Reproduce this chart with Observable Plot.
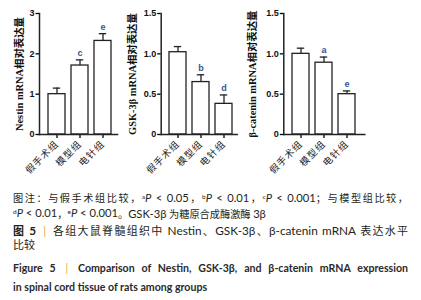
<!DOCTYPE html>
<html>
<head>
<meta charset="utf-8">
<script src="https://cdn.jsdelivr.net/npm/d3@7"></script>
<script src="https://cdn.jsdelivr.net/npm/@observablehq/plot@0.6"></script>
<style>
  html, body { margin: 0; padding: 0; background: #fff; }
  #wrap { position: relative; width: 421px; height: 300px; overflow: hidden; }
  #wrap svg { position: absolute; left: 0; top: 0; }
  g[aria-label="y-axis label"] text { font-family: "Liberation Serif", "Noto Sans CJK SC", serif; font-weight: bold; font-size: 10.4px; fill: #111; }
  g[aria-label="y-axis tick label"] text { font-family: "Liberation Sans", Arial, sans-serif; font-weight: bold; font-size: 9px; fill: #111; }
  g[aria-label="x-axis tick label"] text { font-family: "Noto Sans CJK SC", sans-serif; font-size: 9.5px; letter-spacing: 1px; fill: #222; }
  .blk { position: absolute; left: 13px; width: 395px; color: #231f20; white-space: nowrap;
         font-family: "Lato", "Noto Sans CJK SC", sans-serif; }
  .just { text-align: justify; text-align-last: justify; white-space: normal; }
  .note { top: 189px; font-size: 10.2px; line-height: 14.3px; }
  .note sup { font-size: 6.5px; vertical-align: 3.5px; }
  .l { font-size: 11.2px; }
  .t1 { top: 224px; font-size: 11px; line-height: 13.5px; }
  .t1 b { font-weight: bold; }
  .t1 .l { font-size: 11.8px; }
  .bar { color: #eda33a; font-weight: normal; margin: 0 3px; }
  .t2 { top: 259px; font-size: 10.6px; line-height: 19px; font-weight: bold; color: #2a2a2a; }
</style>
</head>
<body>
<div id="wrap">
  <div id="charts"></div>
  <div class="blk note">
    <div class="just">图注：与假手术组比较，<span class="l"><sup>a</sup><i>P</i> &lt; 0.05</span>，<span class="l"><sup>b</sup><i>P</i> &lt; 0.01</span>，<span class="l"><sup>c</sup><i>P</i> &lt; 0.001</span>；与模型组比较，</div>
    <div><span class="l"><sup>d</sup><i>P</i> &lt; 0.01</span>，<span class="l"><sup>e</sup><i>P</i> &lt; 0.001</span>。<span class="l">GSK-3β</span> 为糖原合成酶激酶 <span class="l">3β</span></div>
  </div>
  <div class="blk t1">
    <div class="just"><b>图 <span class="l">5</span></b> <span class="bar">|</span> 各组大鼠脊髓组织中 <span class="l">Nestin</span>、<span class="l">GSK-3β</span>、<span class="l">β-catenin mRNA</span> 表达水平</div>
    <div>比较</div>
  </div>
  <div class="blk t2">
    <div class="just">Figure 5 <span class="bar">|</span> Comparison of Nestin, GSK-3β, and β-catenin mRNA expression</div>
    <div>in spinal cord tissue of rats among groups</div>
  </div>
</div>
<script>
const groups = ["假手术组", "模型组", "电针组"];

const nestin = [1.00, 1.71, 2.32];
const nestinErr = [0.15, 0.14, 0.18];
const nestinSig = ["", "c", "e"];

const gsk = [1.02, 0.65, 0.38];
const gskErr = [0.07, 0.09, 0.11];
const gskSig = ["", "b", "d"];

const catenin = [1.00, 0.89, 0.50];
const cateninErr = [0.07, 0.07, 0.04];
const cateninSig = ["", "a", "e"];

const yTicksNestin = [0, 1, 2, 3];
const yTicksRatio = [0, 0.5, 1.0, 1.5];

const W = 421, H = 175;
const fmtInt = d => String(d);
const fmtDec = d => d === 0 ? "0" : d.toFixed(1);

function panel({values, errs, sig, ticks, fmt, axisX, axisEnd, xRange, label, labelOffset}) {
  const data = groups.map((g, i) => ({g, v: values[i], e: errs[i], s: sig[i], top: values[i] + errs[i]}));
  return Plot.plot({
    width: W, height: H,
    marginLeft: axisX, marginRight: W - axisEnd, marginTop: 13, marginBottom: 41,
    style: {background: "transparent", overflow: "visible"},
    x: {domain: groups, range: xRange, padding: 0.26, label: null},
    y: {domain: [ticks[0], ticks[ticks.length - 1]], label: null},
    marks: [
      Plot.barY(data, {x: "g", y: "v", fill: "white", stroke: "#222", strokeWidth: 1.3}),
      Plot.ruleX(data, {x: "g", y1: "v", y2: "top", stroke: "#222", strokeWidth: 1.3}),
      Plot.tickY(data, {x: "g", y: "top", stroke: "#222", strokeWidth: 1.3, insetLeft: 4.8, insetRight: 4.8}),
      Plot.text(data, {x: "g", y: "top", text: "s", dy: -7, fill: "#2f5597", fontWeight: "bold", fontSize: 9, fontFamily: "Liberation Sans, Arial, sans-serif"}),
      Plot.axisY({ticks, tickFormat: fmt, tickSize: 3.5, tickPadding: 1.5, strokeWidth: 1.3,
                  label, labelAnchor: "center", labelArrow: "none", labelOffset}),
      Plot.axisX({tickSize: 4, tickPadding: 4, tickRotate: -45, strokeWidth: 1.3, label: null}),
      Plot.frame({anchor: "left", strokeWidth: 1.5, stroke: "#222"}),
      Plot.frame({anchor: "bottom", strokeWidth: 1.5, stroke: "#222"})
    ]
  });
}

const host = document.getElementById("charts");
host.appendChild(panel({values: nestin, errs: nestinErr, sig: nestinSig, ticks: yTicksNestin, fmt: fmtInt,
  axisX: 39, axisEnd: 117, xRange: [41.9, 118.1], label: "Nestin mRNA相对表达量", labelOffset: 24}));
host.appendChild(panel({values: gsk, errs: gskErr, sig: gskSig, ticks: yTicksRatio, fmt: fmtDec,
  axisX: 160.7, axisEnd: 236.7, xRange: [162.1, 239.5], label: "GSK-3β mRNA相对表达量", labelOffset: 33}));
host.appendChild(panel({values: catenin, errs: cateninErr, sig: cateninSig, ticks: yTicksRatio, fmt: fmtDec,
  axisX: 283.3, axisEnd: 364.3, xRange: [284.5, 361.9], label: "β-catenin mRNA相对表达量", labelOffset: 35}));
</script>
</body>
</html>
